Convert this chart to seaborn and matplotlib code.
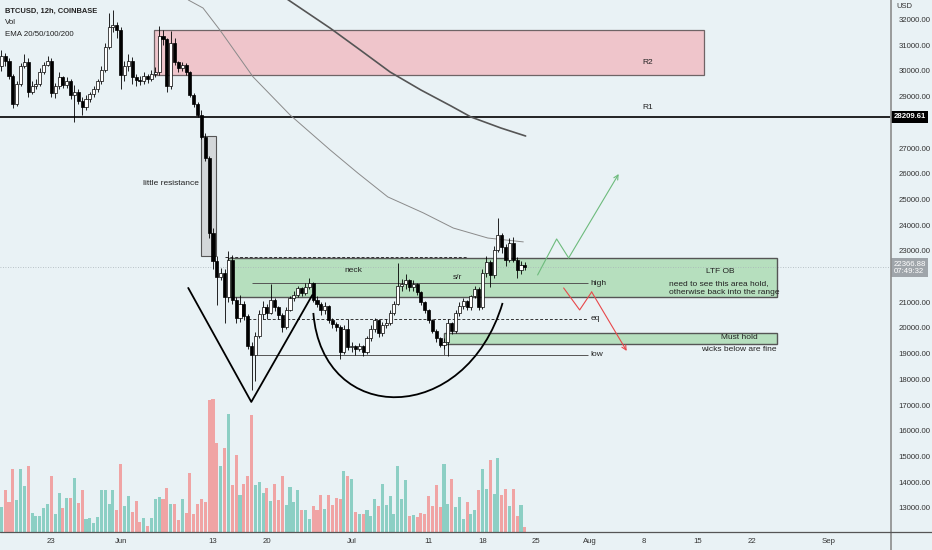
import numpy as np
import pandas as pd
import matplotlib
matplotlib.use('Agg')
import matplotlib.pyplot as plt
import matplotlib.transforms as mtransforms
from matplotlib.patches import Rectangle, PathPatch
from matplotlib.path import Path
from matplotlib.lines import Line2D
import seaborn as sns

sns.set_theme(style='white')
plt.rcParams['font.family'] = ['Liberation Sans', 'DejaVu Sans']

T0 = pd.Timestamp('2022-05-01')

# ---------------- data (BTCUSD 12h) ----------------
first_open = 30200
closes = [30600, 30400, 29800, 28700, 29500, 30200, 30350, 29200, 29400, 29500,
          29950, 30250, 30400, 29150, 29400, 29750, 29450, 29600, 29050, 29200,
          28850, 28600, 28900, 29100, 29300, 29600, 30050, 30950, 31700, 31800,
          31600, 29850, 30200, 30400, 29750, 29650, 29600, 29800, 29700, 29900,
          29950, 31350, 31250, 29400, 31100, 30350, 30100, 30250, 29950, 29050,
          28700, 28300, 27450, 26600, 23700, 22600, 22000, 22150, 21200, 22650,
          21100, 20400, 20950, 20450, 19300, 18950, 19700, 20550, 20800, 20600,
          21100, 20800, 20500, 20050, 20700, 21150, 21300, 21550, 21350, 21600,
          21750, 21100, 20950, 20700, 20850, 20300, 20150, 20050, 19050, 19950,
          19250, 19300, 19200, 19280, 19050, 19600, 19950, 20300, 19800, 20100,
          20200, 20600, 20950, 21650, 21700, 21850, 21600, 21700, 21400, 21000,
          20700, 20300, 19900, 19600, 19350, 19450, 20200, 19900, 20600, 20850,
          21050, 20800, 21250, 21500, 20800, 22150, 22550, 22050, 23050, 23600,
          23150, 22650, 23300, 22650, 22250, 22450, 22366.88]
highs = [30800, 30700, 30500, 29900, 29600, 30300, 30650, 30500, 29600, 29700,
         30100, 30350, 30600, 30500, 29550, 29950, 29800, 29750, 29700, 29450,
         29300, 29000, 29050, 29200, 29400, 29700, 30200, 31100, 32250, 32370,
         31900, 31700, 30400, 30650, 30550, 29900, 29800, 29950, 29900, 30050,
         30150, 31750, 31600, 31300, 31550, 31300, 30400, 30350, 30300, 30000,
         29150, 28800, 28500, 27600, 26700, 23900, 22800, 22350, 22300, 23000,
         22850, 21200, 21300, 21050, 20550, 19450, 19850, 20700, 21050, 20950,
         21700, 21150, 20850, 20600, 20800, 21250, 21450, 21650, 21600, 21750,
         21950, 21800, 21250, 21000, 21000, 20900, 20400, 20250, 20100, 20100,
         20350, 19450, 19350, 19400, 19350, 19700, 20100, 20400, 20350, 20250,
         20350, 20700, 21050, 22530, 21900, 22100, 21900, 21850, 21750, 21450,
         21050, 20750, 20350, 19950, 19650, 19600, 20350, 20250, 20700, 21000,
         21150, 21100, 21300, 21650, 21600, 22300, 22800, 22650, 23200, 24280,
         23700, 23250, 23500, 23550, 22750, 22600, 22550]
lows = [30000, 30200, 29700, 28550, 28650, 29400, 30100, 29000, 29100, 29300,
        29400, 29900, 30200, 29000, 28950, 29300, 29350, 29350, 28900, 28000,
        28700, 28300, 28500, 28800, 29000, 29200, 29500, 29950, 30850, 31500,
        31300, 29300, 29600, 30000, 29500, 29400, 29450, 29500, 29550, 29600,
        29750, 29850, 31000, 29200, 29300, 30250, 29950, 30000, 29850, 29000,
        28600, 28200, 27350, 26500, 23500, 22300, 20900, 21850, 20200, 21000,
        20950, 20200, 20250, 20300, 19200, 17600, 17950, 19600, 20350, 20350,
        20550, 20650, 20350, 19850, 19950, 20650, 21050, 21200, 21250, 21300,
        21500, 21000, 20800, 20500, 20550, 20200, 20000, 19900, 18800, 19000,
        19150, 19050, 18950, 19100, 18900, 19000, 19500, 19850, 19650, 19700,
        20000, 20100, 20500, 20900, 21450, 21500, 21450, 21450, 21300, 20900,
        20600, 20200, 19800, 19450, 19250, 19200, 18900, 19750, 19800, 20450,
        20750, 20700, 20700, 21150, 20700, 20750, 22000, 21600, 21950, 22950,
        22900, 22400, 22550, 22550, 21950, 22100, 22250]
volumes = [75, 125, 90, 190, 97, 190, 138, 198, 58, 47,
           49, 73, 85, 168, 55, 118, 71, 103, 101, 162,
           87, 125, 40, 43, 28, 45, 125, 125, 85, 125,
           65, 203, 77, 109, 61, 94, 29, 43, 18, 43,
           98, 105, 100, 132, 85, 85, 37, 100, 57, 177,
           53, 85, 98, 90, 395, 400, 267, 199, 253, 353,
           140, 232, 110, 143, 168, 352, 142, 149, 118, 131,
           93, 143, 95, 168, 80, 134, 89, 126, 65, 67,
           39, 77, 65, 112, 68, 112, 80, 103, 100, 183,
           168, 158, 59, 53, 55, 67, 49, 98, 77, 143,
           80, 107, 53, 199, 98, 155, 49, 50, 45, 57,
           55, 109, 77, 140, 75, 205, 85, 158, 75, 105,
           40, 89, 53, 65, 125, 188, 128, 217, 113, 223,
           111, 130, 77, 130, 49, 80, 15]
candle_times = pd.date_range('2022-05-16 12:00', periods=len(closes), freq='12h')

# EMA 100 / EMA 200 read at a few points (days since May 1)
ema100_days = [38.5, 39.8, 41.7, 43.9, 48.2, 53.0, 58.2, 61.8, 65.7, 70.3, 74.2, 78.7, 83.3]
ema100_vals = [33300, 32760, 32450, 31590, 29770, 28290, 26930, 26030, 25100, 24480, 23890, 23500, 23350]
ema200_days = [49.9, 52.8, 58.2, 62.1, 66.0, 70.0, 73.9, 76.5, 80.4, 83.6]
ema200_vals = [33380, 32760, 31670, 30820, 29960, 29260, 28640, 28210, 27780, 27470]

r1_level = 28209.61
last_price = 22366.88
r2_zone = (29850, 31600)
ltf_ob_zone = (21220, 22710)
must_hold_zone = (19380, 19800)
neck_level = 22760
range_high = 21750
range_eq = 20350
range_low = 18950

price_ticks = [13000, 14000, 15000, 16000, 17000, 18000, 19000, 20000, 21000,
               23000, 24000, 25000, 26000, 27000, 29000, 30000, 31000, 32000]
date_ticks = ['2022-05-23', '2022-06-01', '2022-06-13', '2022-06-20', '2022-07-01',
              '2022-07-11', '2022-07-18', '2022-07-25', '2022-08-01', '2022-08-08',
              '2022-08-15', '2022-08-22', '2022-09-01']
date_labels = ['23', 'Jun', '13', '20', 'Jul', '11', '18', '25', 'Aug', '8', '15', '22', 'Sep']

# ---------------- prep ----------------
x = ((candle_times - T0) / pd.Timedelta('1D')).values
c = np.array(closes, dtype=float)
o = np.array([first_open] + closes[:-1], dtype=float)
h = np.maximum(np.array(highs, dtype=float), np.maximum(o, c))
l = np.minimum(np.array(lows, dtype=float), np.minimum(o, c))
up = c >= o

bg = '#e9f2f5'
W, H = 932, 550
fig = plt.figure(figsize=(W / 100, H / 100), dpi=100, facecolor=bg)
rect = [0, 18 / H, 890 / W, 532 / H]
ax_v = fig.add_axes(rect)
ax = fig.add_axes(rect, sharex=ax_v)
ax_v.set_zorder(0)
ax.set_zorder(1)
ax.patch.set_alpha(0)
ax_v.set_facecolor(bg)

# volume
vol_colors = np.where(up, '#8ccfc4', '#f0a4a4')
ax_v.bar(x, volumes, width=0.4, color=vol_colors, linewidth=0)
ax_v.set_ylim(0, 1596)
ax_v.set_yticks([])
ax_v.tick_params(axis='x', labelbottom=False, length=0)
for s in ax_v.spines.values():
    s.set_visible(False)

# zones
ax.add_patch(Rectangle((35.36, r2_zone[0]), 106.75 - 35.36, r2_zone[1] - r2_zone[0],
                       fc='#efc5cb', ec='#6f6466', lw=0.9, zorder=1))
ax.add_patch(Rectangle((41.47, 22800), 43.42 - 41.47, 27470 - 22800,
                       fc='#d3d7d9', ec='#555555', lw=0.8, zorder=1))
ax.add_patch(Rectangle((44.98, ltf_ob_zone[0]), 116.24 - 44.98, ltf_ob_zone[1] - ltf_ob_zone[0],
                       fc='#b6dfbe', ec='#555555', lw=1.0, zorder=1))
ax.add_patch(Rectangle((72.94, must_hold_zone[0]), 116.24 - 72.94, must_hold_zone[1] - must_hold_zone[0],
                       fc='#b6dfbe', ec='#555555', lw=1.0, zorder=1))

ax.axhline(r1_level, color='black', lw=1.2, zorder=2)
ax.axhline(last_price, color='#a9b3b8', lw=0.6, ls=(0, (1, 2)), zorder=1.5)
ax.hlines(neck_level, 44.59, 76.06, color='#333333', lw=0.7, ls=(0, (3, 2)), zorder=2)
ax.hlines(range_high, 48.1, 91.66, color='#555555', lw=0.7, zorder=2)
ax.hlines(range_eq, 47.58, 91.66, color='#333333', lw=0.7, ls=(0, (3, 2)), zorder=2)
ax.hlines(range_low, 48.75, 91.66, color='#555555', lw=0.7, zorder=2)
ax.vlines(72.94, range_low, must_hold_zone[0], color='#555555', lw=0.7, zorder=2)

# EMAs
sns.lineplot(x=ema100_days, y=ema100_vals, ax=ax, color='#8a8a8a', lw=0.7, zorder=2)
sns.lineplot(x=ema200_days, y=ema200_vals, ax=ax, color='#555555', lw=1.2, zorder=2)

# candles
ax.vlines(x, l, h, color='black', lw=0.6, zorder=3)
body_h = np.maximum(np.abs(c - o), 40)
ax.bar(x, body_h, bottom=np.minimum(o, c), width=0.4,
       color=np.where(up, 'white', 'black'), edgecolor='black', linewidth=0.5, zorder=4)

# pattern drawings
ax.plot([39.78, 47.97, 55.9], [21558, 17123, 21285], color='black', lw=1.3, zorder=5)
cup = Path([(56.03, 20585), (57.2, 16151), (75.8, 16151), (80.61, 20974)],
           [Path.MOVETO, Path.CURVE4, Path.CURVE4, Path.CURVE4])
ax.add_patch(PathPatch(cup, fc='none', ec='black', lw=1.3, zorder=5))

gx, gy = [85.16, 87.63, 89.19, 95.69], [22063, 23464, 22725, 25992]
ax.plot(gx[:-1], gy[:-1], color='#6dbb7c', lw=0.8, zorder=5)
ax.annotate('', xy=(gx[-1], gy[-1]), xytext=(gx[-2], gy[-2]),
            arrowprops=dict(arrowstyle='->', color='#6dbb7c', lw=0.8, shrinkA=0, shrinkB=0,
                            mutation_scale=8), zorder=5)
rx, ry = [88.54, 90.62, 92.18, 96.73], [21558, 20702, 21402, 19107]
ax.plot(rx[:-1], ry[:-1], color='#e8474a', lw=0.8, zorder=5)
ax.annotate('', xy=(rx[-1], ry[-1]), xytext=(rx[-2], ry[-2]),
            arrowprops=dict(arrowstyle='->', color='#e8474a', lw=0.8, shrinkA=0, shrinkB=0,
                            mutation_scale=8), zorder=5)

# texts
tk = dict(fontsize=6, color='#222222', zorder=6)
ax.text(99.46, 30349, 'R2', ha='center', va='center', **tk)
ax.text(99.46, 28560, 'R1', ha='center', va='center', **tk)
ax.text(37.57, 25603, 'little resistance', ha='center', va='center', **tk)
ax.text(61.23, 22219, 'neck', ha='center', va='center', **tk)
ax.text(74.76, 21947, 's/r', ha='center', va='center', **tk)
ax.text(92.05, range_high, 'high', ha='left', va='center', **tk)
ax.text(92.05, range_eq, 'eq', ha='left', va='center', **tk)
ax.text(92.05, range_low, 'low', ha='left', va='center', **tk)
ax.text(108.83, 22180, 'LTF OB', ha='center', va='center', **tk)
ax.text(102.2, 21713, 'need to see this area hold,', ha='left', va='center', **tk)
ax.text(102.2, 21363, 'otherwise back into the range', ha='left', va='center', **tk)
ax.text(111.43, 19613, 'Must hold', ha='center', va='center', **tk)
ax.text(111.3, 19146, 'wicks below are fine', ha='center', va='center', **tk)

# axes
ax.set_xlim(15.33, 130.93)
ax.set_ylim(12062, 32762)
ax.yaxis.tick_right()
ax.set_yticks(price_ticks)
ax.set_yticklabels([f'{p:.2f}' for p in price_ticks])
dpos = [(pd.Timestamp(d) - T0) / pd.Timedelta('1D') for d in date_ticks]
ax.set_xticks(dpos)
ax.set_xticklabels(date_labels)
ax.tick_params(axis='both', length=0, labelsize=5.6, labelcolor='#333333')
ax.tick_params(axis='y', pad=6)
ax.tick_params(axis='x', pad=4)
for s in ax.spines.values():
    s.set_visible(False)
ax.set_xlabel('')
ax.set_ylabel('')
ax.grid(False)

# price labels on the scale
tr = mtransforms.blended_transform_factory(ax.transAxes, ax.transData)
ax.text(1.004, r1_level, f'{r1_level:.2f}', transform=tr, ha='left', va='center',
        fontsize=5.6, color='white', fontweight='bold', clip_on=False, zorder=7,
        bbox=dict(boxstyle='square,pad=0.3', fc='black', ec='none'))
ax.text(1.004, 22620, f'{last_price:.2f}\n07:49:32', transform=tr, ha='left', va='top',
        fontsize=5.6, color='white', linespacing=1.1, clip_on=False, zorder=7,
        bbox=dict(boxstyle='square,pad=0.3', fc='#9fa5aa', ec='none'))

# separators
fig.add_artist(Line2D([890.5 / W, 890.5 / W], [0, 1], color='#8c8c8c', lw=1.2))
fig.add_artist(Line2D([0, 1], [18 / H, 18 / H], color='#555555', lw=0.9))

fig.text(896 / W, 1 - 7 / H, 'USD', fontsize=5.5, color='#333333', va='center')
fig.text(5 / W, 1 - 11 / H, 'BTCUSD, 12h, COINBASE', fontsize=5.4, fontweight='bold',
         color='#222222', va='center')
fig.text(5 / W, 1 - 23 / H, 'Vol', fontsize=5.7, color='#222222', va='center')
fig.text(5 / W, 1 - 34 / H, 'EMA 20/50/100/200', fontsize=5.7, color='#222222', va='center')

fig.savefig('out.png', dpi=100, facecolor=bg)
